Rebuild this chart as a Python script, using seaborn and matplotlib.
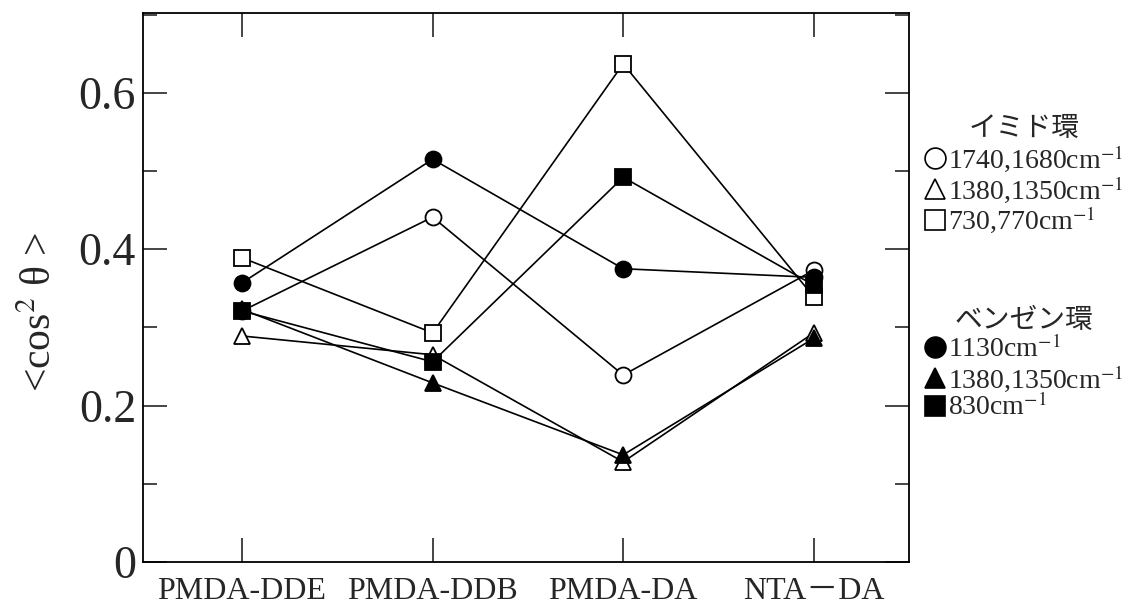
import numpy as np
import matplotlib
matplotlib.use("Agg")
import matplotlib.pyplot as plt
import seaborn as sns
from matplotlib.lines import Line2D
from matplotlib.ticker import MultipleLocator
from matplotlib.font_manager import FontProperties

# Polyimide films along the x axis
categories = ["PMDA-DDE", "PMDA-DDB", "PMDA-DA", "NTA\uff0dDA"]

# <cos^2 theta> for the imide-ring bands (open markers)
imide_1740_1680 = [0.321, 0.441, 0.239, 0.373]
imide_1380_1350 = [0.289, 0.265, 0.128, 0.293]
imide_730_770 = [0.389, 0.293, 0.637, 0.339]

# <cos^2 theta> for the benzene-ring bands (filled markers)
benzene_1130 = [0.357, 0.515, 0.375, 0.364]
benzene_1380_1350 = [0.323, 0.229, 0.137, 0.286]
benzene_830 = [0.321, 0.256, 0.492, 0.354]

ytick_values = [0, 0.2, 0.4, 0.6]
ytick_labels = ["0", "0.2", "0.4", "0.6"]

imide_title = "イミド環"
benzene_title = "ベンゼン環"
imide_labels = ["1740,1680cm$^{-1}$", "1380,1350cm$^{-1}$", "730,770cm$^{-1}$"]
benzene_labels = ["1130cm$^{-1}$", "1380,1350cm$^{-1}$", "830cm$^{-1}$"]

sns.set_style("ticks")
plt.rcParams["font.family"] = ["Liberation Serif", "Noto Sans CJK JP", "DejaVu Sans"]
plt.rcParams["mathtext.fontset"] = "stix"

fig = plt.figure(figsize=(11.41, 6.11), dpi=100)
ax = fig.add_axes([0.1253, 0.0802, 0.6714, 0.8985])

x = np.arange(len(categories))

open_series = [(imide_1740_1680, "o"), (imide_1380_1350, "^"), (imide_730_770, "s")]
filled_series = [(benzene_1130, "o"), (benzene_1380_1350, "^"), (benzene_830, "s")]

line_kw = dict(color="black", linewidth=1.2, markeredgecolor="black",
               markeredgewidth=1.3, markersize=11.5)

for vals, mk in open_series:
    sns.lineplot(x=x, y=vals, ax=ax, marker=mk, markerfacecolor="white", **line_kw)
for vals, mk in filled_series:
    sns.lineplot(x=x, y=vals, ax=ax, marker=mk, markerfacecolor="black", **line_kw)

ax.set_xlim(-0.52, 3.5)
ax.set_ylim(0, 0.702)
ax.set_xticks(x)
ax.set_xticklabels(categories, fontsize=23)
ax.set_yticks(ytick_values)
ax.set_yticklabels(ytick_labels, fontsize=33)
ax.yaxis.set_minor_locator(MultipleLocator(0.1))

ax.tick_params(which="both", direction="in", top=True, right=True, width=1.2)
ax.tick_params(which="major", length=17)
ax.tick_params(which="minor", length=10)
ax.tick_params(axis="x", pad=11)
ax.tick_params(axis="y", pad=5)

for sp in ax.spines.values():
    sp.set_linewidth(1.3)
    sp.set_color("black")

ax.set_ylabel("<cos$^{2}$ θ >", fontsize=30)
ax.yaxis.set_label_coords(-0.108, 0.455)

text_prop = FontProperties(family=["Liberation Serif"], size=20)
title_prop = FontProperties(family=["Noto Sans CJK JP"], size=20)


def handle(mk, face):
    return Line2D([], [], linestyle="none", marker=mk, markersize=15,
                  markerfacecolor=face, markeredgecolor="black", markeredgewidth=1.2)


legend_kw = dict(loc="upper left", frameon=False, prop=text_prop,
                 title_fontproperties=title_prop, handlelength=0.75,
                 handletextpad=0.12, labelspacing=0.0, borderpad=0, borderaxespad=0)

leg1 = fig.legend(handles=[handle(m, "white") for _, m in open_series], labels=imide_labels,
                  title=imide_title, bbox_to_anchor=(0.810, 0.815), **legend_kw)
leg2 = fig.legend(handles=[handle(m, "black") for _, m in filled_series], labels=benzene_labels,
                  title=benzene_title, bbox_to_anchor=(0.810, 0.500), **legend_kw)

fig.savefig("out.png", dpi=100, facecolor="white")
